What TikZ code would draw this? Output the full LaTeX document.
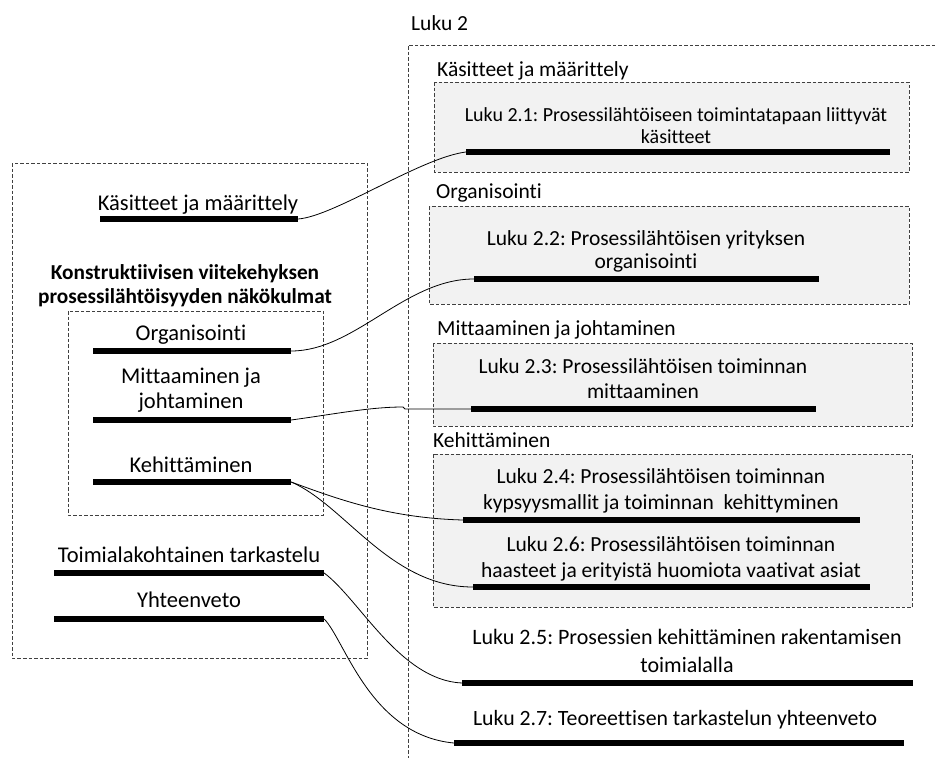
\documentclass[tikz,border=0pt]{standalone}
\usepackage{fontspec}
\setmainfont{Carlito}[Ligatures=NoCommon]
\frenchspacing
\begin{document}
\begin{tikzpicture}[x=1pt,y=-1pt,
  txt/.style={inner sep=0pt, align=center, anchor=base, font=\fontsize{21.5}{25}\selectfont},
  txtl/.style={txt, font=\fontsize{22.5}{25}\selectfont},
  txtw/.style={txt, anchor=base west},
  bar/.style={fill=black, inner sep=0pt, minimum height=6pt},
  frame/.style={draw=black!75, dash pattern=on 3.5pt off 2pt, line width=0.8pt},
  chap/.style={frame, fill=black!5},
  link/.style={draw=black, line width=0.8pt}]
\useasboundingbox (0,0) rectangle (935,758);

% ---- left column: viewpoints of the framework
\draw[frame] (12,163) rectangle (367,658);
\draw[frame] (68,311) rectangle (323,515);

\node[txtl] (tK) at (198,210) {Käsitteet ja määrittely};
\node[bar, minimum width=198pt] (bK) at (199,219) {};

\node[txt, font=\bfseries\fontsize{21.3}{24}\selectfont] (title) at (185,303)
  {Konstruktiivisen viitekehyksen\\prosessilähtöisyyden näkökulmat};

\node[txtl] (tO) at (191,340) {Organisointi};
\node[bar, minimum width=198pt] (bO) at (192,351) {};

\node[txtl] (tM) at (191,408) {Mittaaminen ja\\johtaminen};
\node[bar, minimum width=198pt] (bM) at (192,420) {};

\node[txtl] (tKe) at (191,472) {Kehittäminen};
\node[bar, minimum width=198pt] (bKe) at (192,482) {};

\node[txtl] (tT) at (189,562) {Toimialakohtainen tarkastelu};
\node[bar, minimum width=270pt] (bT) at (189,573) {};

\node[txtl] (tY) at (189,607) {Yhteenveto};
\node[bar, minimum width=270pt] (bY) at (189,619) {};

% ---- right column: chapter 2
\node[txtw] (luku) at (411,30) {Luku 2};
\draw[frame] (935,45) -- (408,45) -- (408,758);

\node[txtw] (hK) at (437,76) {Käsitteet ja määrittely};
\draw[chap] (434,82) rectangle (909,172);
\node[txt, font=\fontsize{20}{22}\selectfont] (c21) at (676,143) {Luku 2.1: Prosessilähtöiseen toimintatapaan liittyvät\\käsitteet};
\node[bar, minimum width=424pt] (b21) at (678,152) {};

\node[txtw] (hO) at (436,198) {Organisointi};
\draw[chap] (429,206) rectangle (909,304);
\node[txt, font=\fontsize{21.5}{23}\selectfont] (c22) at (646,268) {Luku 2.2: Prosessilähtöisen yrityksen\\organisointi};
\node[bar, minimum width=345pt] (b22) at (646.5,279) {};

\node[txtw] (hM) at (437,335) {Mittaaminen ja johtaminen};
\draw[chap] (433,343) rectangle (912,426);
\node[txt] (c23) at (643,398) {Luku 2.3: Prosessilähtöisen toiminnan\\mittaaminen};
\node[bar, minimum width=345pt] (b23) at (643.5,409) {};

\node[txtw] (hKe) at (433,447) {Kehittäminen};
\draw[chap] (433,454) rectangle (912,607);
\node[txt, font=\fontsize{21.5}{26}\selectfont] (c24) at (661,509) {Luku 2.4: Prosessilähtöisen toiminnan\\kypsyysmallit ja toiminnan\ \ kehittyminen};
\node[bar, minimum width=397pt] (b24) at (661.5,520) {};
\node[txt, font=\fontsize{21.5}{26}\selectfont] (c26) at (671,577) {Luku 2.6: Prosessilähtöisen toiminnan\\haasteet ja erityistä huomiota vaativat asiat};
\node[bar, minimum width=397pt] (b26) at (671.5,587) {};

\node[txt, font=\fontsize{22}{28}\selectfont] (c25) at (687,672) {Luku 2.5: Prosessien kehittäminen rakentamisen\\toimialalla};
\node[bar, minimum width=451pt] (b25) at (687.5,683) {};

\node[txt, font=\fontsize{21.8}{25}\selectfont] (c27) at (675,725) {Luku 2.7: Teoreettisen tarkastelun yhteenveto};
\node[bar, minimum width=450pt] (b27) at (679,743) {};

% ---- connectors between viewpoints and sections
\coordinate (kink) at (403,407);
\draw[link] (bK.east) .. controls (335,216) and (420,158) .. (b21.west);
\draw[link] (bO.east) .. controls (355,351) and (405,279) .. (b22.west);
\draw[link] (bM.east) .. controls (335,414) and (370,407) .. (kink) -- (405,409) -- (b23.west);
\draw[link] (bKe.east) .. controls (340,500) and (390,518) .. (b24.west);
\draw[link] (bKe.east) .. controls (345,505) and (390,587) .. (b26.west);
\draw[link] (bT.east) .. controls (360,600) and (400,680) .. (b25.west);
\draw[link] (bY.east) .. controls (345,640) and (370,735) .. (b27.west);
\end{tikzpicture}
\end{document}
